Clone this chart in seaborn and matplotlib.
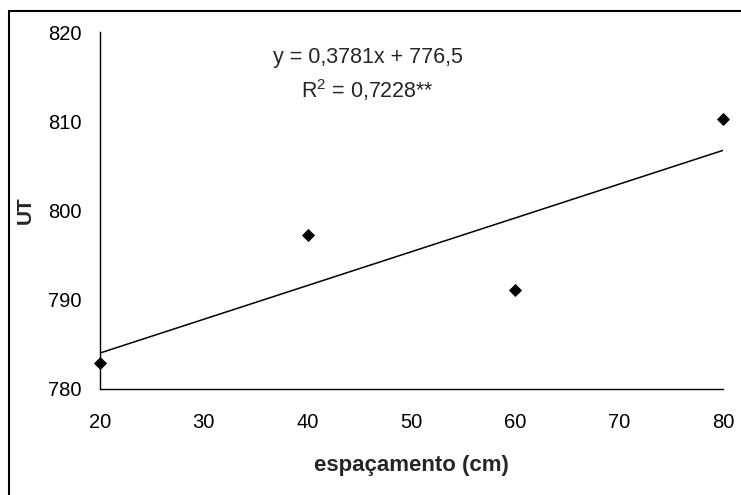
import numpy as np
import pandas as pd
import matplotlib
matplotlib.use("Agg")
import matplotlib.pyplot as plt
import seaborn as sns
from matplotlib.patches import Rectangle

# data
espacamento = [20, 40, 60, 80]
ut = [782.9, 797.2, 791.1, 810.2]
x_ticks = [20, 30, 40, 50, 60, 70, 80]
y_ticks = [780, 790, 800, 810, 820]
equation = "y = 0,3781x + 776,5"
r2_text = "R$^2$ = 0,7228**"

df = pd.DataFrame({"espacamento": espacamento, "UT": ut})

sns.set_style("white")
plt.rcParams["font.family"] = ["Liberation Sans", "DejaVu Sans"]
plt.rcParams["mathtext.default"] = "regular"

fig = plt.figure(figsize=(7.41, 4.95), dpi=100)
ax = fig.add_axes([100 / 741, 1 - 388.5 / 495, 623 / 741, 356.5 / 495])

sns.regplot(data=df, x="espacamento", y="UT", ax=ax, ci=None, truncate=True,
            marker="D", color="black",
            scatter_kws={"s": 45, "clip_on": False, "zorder": 3,
                         "edgecolor": "black", "linewidths": 0, "alpha": 1},
            line_kws={"color": "black", "lw": 1.1})

ax.set_xlim(20, 80)
ax.set_ylim(780, 820)
ax.set_xticks(x_ticks)
ax.set_yticks(y_ticks)
ax.tick_params(axis="both", labelsize=14.5, direction="out", length=5, width=1,
               color="black", labelcolor="black")
ax.tick_params(axis="x", pad=13)
ax.tick_params(axis="y", pad=8)
for s in ["top", "right"]:
    ax.spines[s].set_visible(False)
for s in ["left", "bottom"]:
    ax.spines[s].set_color("black")
    ax.spines[s].set_linewidth(1)

ax.set_xlabel("espaçamento (cm)", fontsize=16, fontweight="bold")
ax.set_ylabel("UT", fontsize=15, fontweight="bold")
ax.xaxis.set_label_coords(0.5, -0.2146)
ax.xaxis.label.set_va("center")
ax.yaxis.set_label_coords(-0.12, 0.5)
ax.yaxis.label.set_va("center")

ax.text(0.43, 0.928, equation, transform=ax.transAxes, ha="center", va="center",
        fontsize=15.5)
ax.text(0.43, 0.837, r2_text, transform=ax.transAxes, ha="center", va="center",
        fontsize=15.5)

# outer chart border (right and bottom edges fall outside the picture)
fig.patches.append(Rectangle((9 / 741, -0.1), 1.2, 1.1 - 11 / 495,
                             transform=fig.transFigure, fill=False,
                             edgecolor="black", lw=1.5))

fig.savefig("out.png", dpi=100)
